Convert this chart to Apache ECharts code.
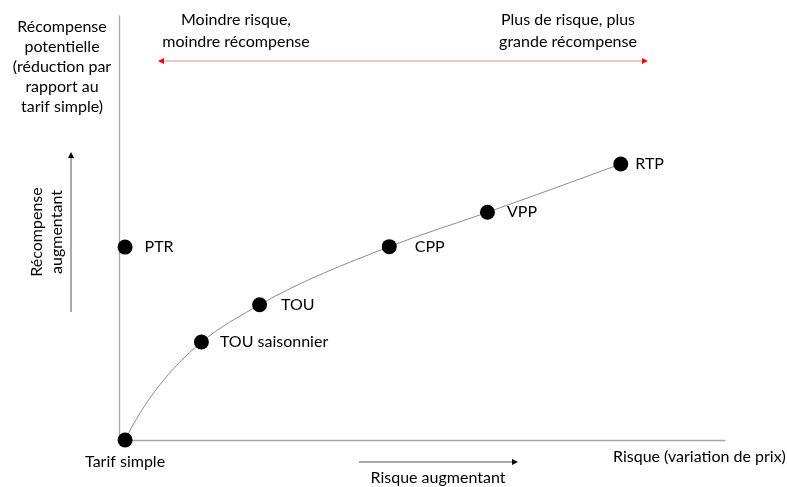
<!DOCTYPE html>
<html>
<head>
<meta charset="utf-8">
<script src="https://cdn.jsdelivr.net/npm/echarts@6/dist/echarts.min.js"></script>
<style>
html,body{margin:0;padding:0;background:#fff;}
#chart{width:787px;height:487px;}
</style>
</head>
<body>
<div id="chart"></div>
<script>
// ---- Data ----
const categories = ['Tarif simple', 'PTR', 'TOU saisonnier', 'TOU', 'CPP', 'VPP', 'RTP'];
const riskValues = [1, 1, 13.6, 23.2, 44.6, 60.8, 82.8];
const rewardValues = [0, 45.5, 23.1, 31.9, 45.6, 53.7, 65.1];
const curveMembers = ['Tarif simple', 'TOU saisonnier', 'TOU', 'CPP', 'VPP', 'RTP'];
const axisMin = 0;
const axisMax = 100;

// label styling (gap from symbol edge)
const labelGap = {'Tarif simple': 6, 'PTR': 12, 'TOU saisonnier': 11, 'TOU': 14, 'CPP': 18, 'VPP': 12, 'RTP': 7};

const FONT = 'Lato, "Open Sans", sans-serif';
const chart = echarts.init(document.getElementById('chart'), null, {renderer: 'canvas'});

const pointData = categories.map((c, i) => {
  const isBase = c === 'Tarif simple';
  return {
    name: c,
    value: [riskValues[i], rewardValues[i]],
    label: {
      show: true,
      formatter: c,
      position: isBase ? 'bottom' : 'right',
      distance: labelGap[c],
      color: '#000',
      fontFamily: FONT,
      fontSize: 16
    }
  };
});
const curveData = curveMembers.map(c => {
  const i = categories.indexOf(c);
  return [riskValues[i], rewardValues[i]];
});

// smooth curve (chord-weighted Hermite spline) drawn in pixel space from axis coords
function unit(v) { const l = Math.hypot(v[0], v[1]) || 1; return [v[0] / l, v[1] / l]; }
function renderCurve(params, api) {
  if (params.dataIndex !== 0) return null;
  const P = curveData.map(d => api.coord(d));
  const n = P.length;
  const T = new Array(n);
  for (let i = 1; i < n - 1; i++) {
    const a = [P[i][0] - P[i - 1][0], P[i][1] - P[i - 1][1]];
    const b = [P[i + 1][0] - P[i][0], P[i + 1][1] - P[i][1]];
    const da = Math.hypot(a[0], a[1]), db = Math.hypot(b[0], b[1]);
    T[i] = unit([(db * a[0] / da + da * b[0] / db), (db * a[1] / da + da * b[1] / db)]);
  }
  const c0 = unit([P[1][0] - P[0][0], P[1][1] - P[0][1]]);
  T[0] = unit([2 * c0[0] - T[1][0], 2 * c0[1] - T[1][1]]);
  const cn = unit([P[n - 1][0] - P[n - 2][0], P[n - 1][1] - P[n - 2][1]]);
  T[n - 1] = unit([2 * cn[0] - T[n - 2][0], 2 * cn[1] - T[n - 2][1]]);
  const children = [];
  for (let i = 0; i < n - 1; i++) {
    const d = Math.hypot(P[i + 1][0] - P[i][0], P[i + 1][1] - P[i][1]) / 3;
    children.push({
      type: 'bezierCurve',
      shape: {
        x1: P[i][0], y1: P[i][1], x2: P[i + 1][0], y2: P[i + 1][1],
        cpx1: P[i][0] + T[i][0] * d, cpy1: P[i][1] + T[i][1] * d,
        cpx2: P[i + 1][0] - T[i + 1][0] * d, cpy2: P[i + 1][1] - T[i + 1][1] * d
      },
      style: {stroke: '#8c8c8c', lineWidth: 1, fill: null}
    });
  }
  return {type: 'group', children: children};
}

function arrowHead(tipX, tipY, dir, color, len, half) {
  let pts;
  if (dir === 'left') pts = [[tipX, tipY], [tipX + len, tipY - half], [tipX + len, tipY + half]];
  else if (dir === 'right') pts = [[tipX, tipY], [tipX - len, tipY - half], [tipX - len, tipY + half]];
  else pts = [[tipX, tipY], [tipX - half, tipY + len], [tipX + half, tipY + len]];
  return {type: 'polygon', shape: {points: pts}, style: {fill: color}, z: 10};
}
function txt(x, y, text, extra) {
  return {
    type: 'text', x: x, y: y,
    style: Object.assign({text: text, fill: '#000', font: '16px ' + FONT, align: 'center', verticalAlign: 'middle', lineHeight: 20}, extra || {})
  };
}

const option = {
  backgroundColor: '#fff',
  animation: false,
  grid: {left: 119, top: 16, right: 62, bottom: 47},
  xAxis: {
    type: 'value', min: axisMin, max: axisMax,
    axisLine: {show: true, onZero: false, lineStyle: {color: '#a6a6a6', width: 1.3}},
    axisTick: {show: false}, axisLabel: {show: false}, splitLine: {show: false}
  },
  yAxis: {
    type: 'value', min: axisMin, max: axisMax,
    axisLine: {show: true, onZero: false, lineStyle: {color: '#a6a6a6', width: 1.3}},
    axisTick: {show: false}, axisLabel: {show: false}, splitLine: {show: false}
  },
  series: [
    {
      type: 'custom', data: curveData, renderItem: renderCurve, z: 2, silent: true
    },
    {
      type: 'scatter', data: pointData, symbol: 'circle', symbolSize: 15,
      itemStyle: {color: '#000', opacity: 1}, z: 3
    }
  ],
  graphic: [
    txt(62, 67, 'Récompense\npotentielle\n(réduction par\nrapport au\ntarif simple)'),
    txt(236, 31, 'Moindre risque,\nmoindre récompense', {lineHeight: 22}),
    txt(568, 31, 'Plus de risque, plus\ngrande récompense', {lineHeight: 22}),
    {type: 'line', shape: {x1: 163, y1: 61, x2: 643, y2: 61}, style: {stroke: '#d98c8c', lineWidth: 1}},
    arrowHead(158, 61, 'left', '#ff0000', 6, 3),
    arrowHead(648, 61, 'right', '#ff0000', 6, 3),
    {type: 'text', x: 47, y: 232, rotation: Math.PI / 2,
      style: {text: 'Récompense\naugmentant', fill: '#000', font: '16px ' + FONT, align: 'center', verticalAlign: 'middle', lineHeight: 20}},
    {type: 'line', shape: {x1: 71, y1: 312, x2: 71, y2: 157}, style: {stroke: '#555', lineWidth: 1}},
    arrowHead(71, 152, 'up', '#000', 6, 3),
    {type: 'line', shape: {x1: 359, y1: 462, x2: 513, y2: 462}, style: {stroke: '#555', lineWidth: 1}},
    arrowHead(518, 462, 'right', '#000', 6, 3),
    txt(438, 478, 'Risque augmentant'),
    txt(613, 457, 'Risque (variation de prix)', {align: 'left'})
  ]
};
chart.setOption(option);
</script>
</body>
</html>
